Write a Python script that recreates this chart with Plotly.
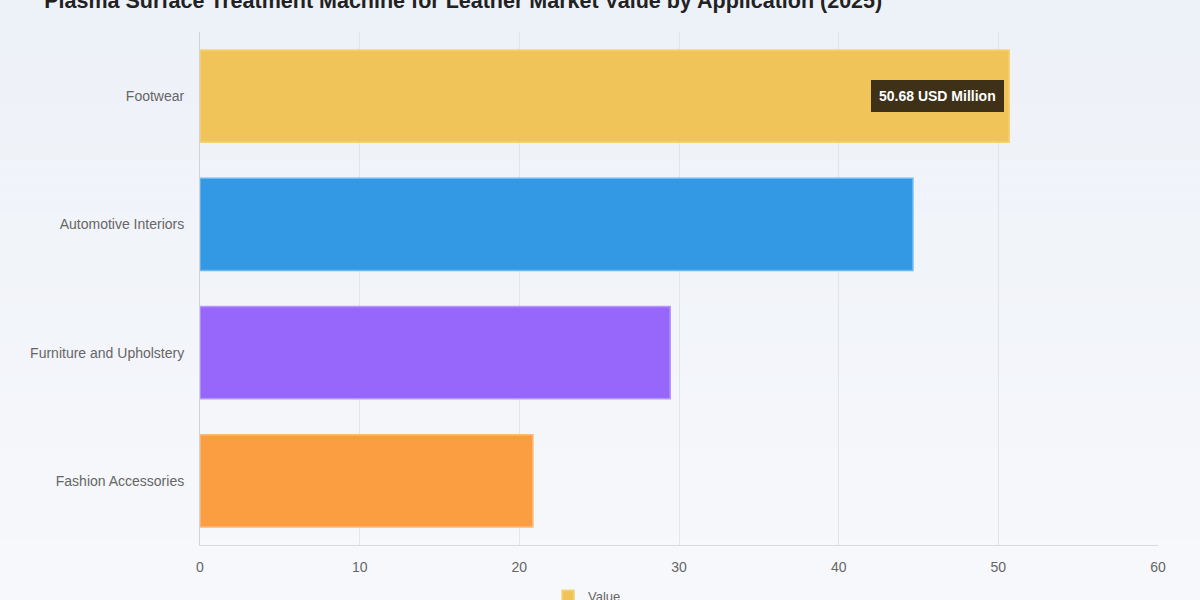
import plotly.graph_objects as go

categories = ["Footwear", "Automotive Interiors", "Furniture and Upholstery", "Fashion Accessories"]
values = [50.68, 44.65, 29.45, 20.85]
colors = ["rgba(240,193,80,0.95)", "rgba(52,153,228,1)", "rgba(151,102,250,1)", "rgba(251,158,66,1)"]
border_colors = ["rgba(245,210,120,1)", "rgba(110,185,240,1)", "rgba(185,150,252,1)", "rgba(252,185,120,1)"]
x_ticks = [0, 10, 20, 30, 40, 50, 60]
title_text = "Plasma Surface Treatment Machine for Leather Market Value by Application (2025)"
legend_name = "Value"
label_text = "50.68 USD Million"

fig = go.Figure()
fig.add_trace(go.Bar(
    y=categories, x=values, orientation="h", name=legend_name,
    marker=dict(color=colors, line=dict(color=border_colors, width=1.5)),
    width=0.72, showlegend=True,
))

# background gradient via paper-anchored bands
shapes = []
n = 40
for i in range(n):
    t = i / (n - 1)
    r = int(237 + (249 - 237) * t)
    g = int(241 + (250 - 241) * t)
    b = int(248 + (252 - 248) * t)
    shapes.append(dict(type="rect", xref="paper", yref="paper", layer="below",
                       x0=-1, x1=2, y0=1.1 - (i + 1) * 1.4 / n, y1=1.1 - i * 1.4 / n,
                       fillcolor=f"rgb({r},{g},{b})", line=dict(width=0)))

fig.update_layout(
    width=1200, height=600,
    paper_bgcolor="#f3f6fa", plot_bgcolor="rgba(0,0,0,0)",
    shapes=shapes,
    margin=dict(l=200, r=42, t=32, b=55, autoexpand=False),
    title=dict(text=title_text, x=0.386, xanchor="center", xref="container",
               yref="container", y=1.0, yanchor="middle",
               font=dict(family="Liberation Sans, Arial", size=21.5, color="#222222", weight="bold")),
    font=dict(family="Liberation Sans, Arial", color="#666666", size=13),
    bargap=0.28,
    xaxis=dict(range=[0, 60], tickvals=x_ticks, showgrid=True, gridcolor="#e2e4e8", gridwidth=1,
               zeroline=False, showline=True, linecolor="#d8dade", ticks="", ticklen=0,
               ticklabelstandoff=9, tickfont=dict(size=14, color="#666666")),
    yaxis=dict(categoryorder="array", categoryarray=categories[::-1], showgrid=False,
               showline=True, linecolor="#d0d2d6", ticks="", ticklabelstandoff=12,
               tickfont=dict(size=14, color="#666666")),
    legend=dict(orientation="h", x=0.404, xanchor="center", yref="container", y=0.006, yanchor="middle",
                font=dict(size=13, color="#666666"), bgcolor="rgba(0,0,0,0)"),
)

fig.add_annotation(x=values[0], y=categories[0], xref="x", yref="y", text="<b>" + label_text + "</b>",
                   showarrow=False, xanchor="right", xshift=-5, bgcolor="#3f3118",
                   bordercolor="#3f3118", borderpad=7, font=dict(color="white", size=14, family="Liberation Sans, Arial"))

fig.write_html("out.html", config={"displayModeBar": False},
               post_script="document.body.style.margin='0';document.body.style.overflow='hidden';")
